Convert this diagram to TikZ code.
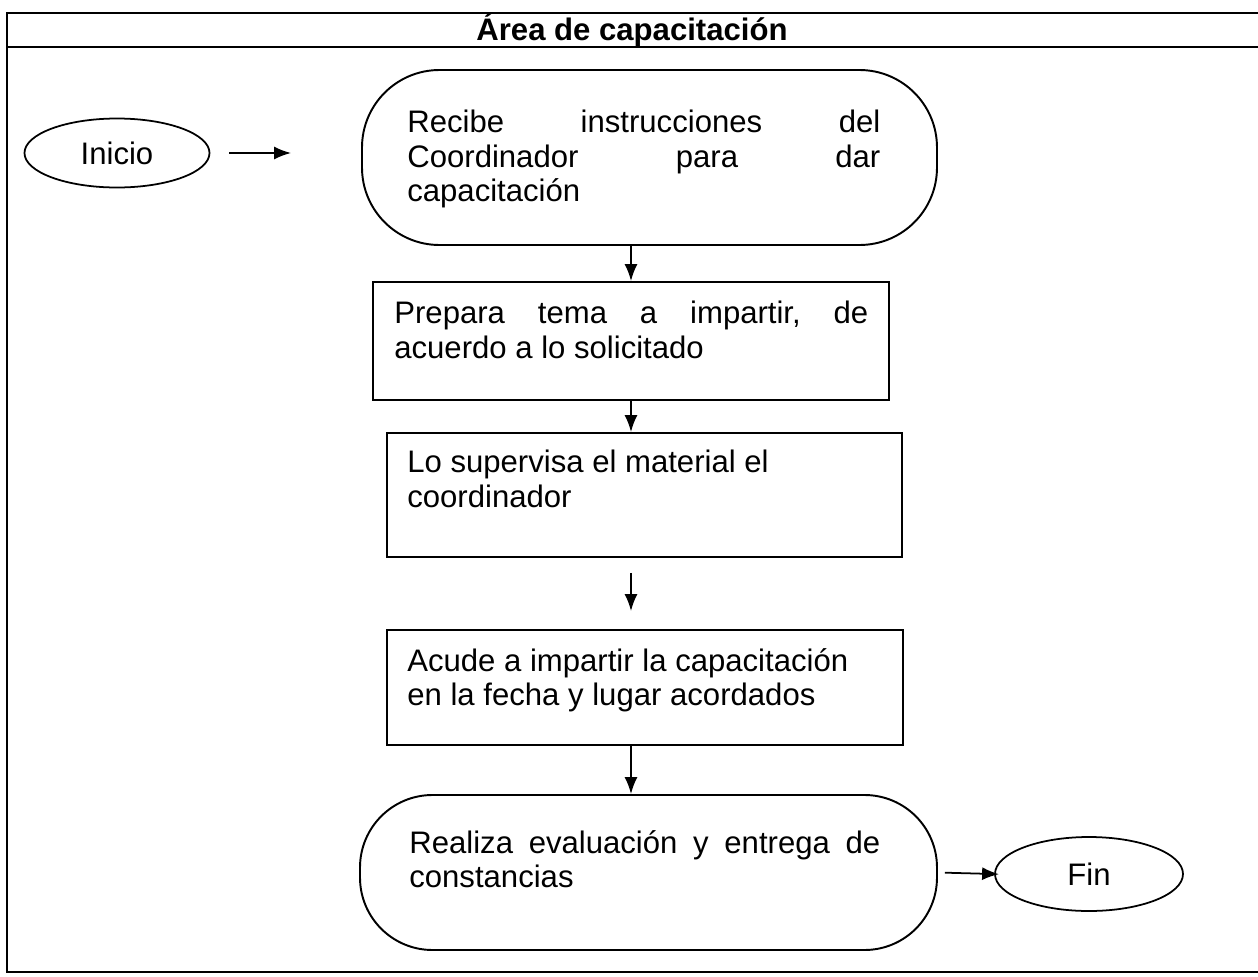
\documentclass[tikz,border=0pt]{standalone}
\usepackage{fontspec}
\setmainfont{Liberation Sans}
\usetikzlibrary{shapes.geometric,arrows.meta}
\begin{document}
\begin{tikzpicture}[
  every node/.style={font=\fontsize{17.7}{19.6}\selectfont},
  frameline/.style={line width=1.1pt},
  stadium/.style={draw, line width=1.1pt, rectangle, inner sep=0pt},
  procbox/.style={draw, line width=1.1pt, rectangle, inner sep=0pt},
  term/.style={draw, line width=1pt, ellipse, inner sep=0pt},
  txt/.style={inner sep=0pt, align=left, anchor=north west},
  arr/.style={line width=1pt, -{Latex[length=0.34cm,width=0.26cm]}}
]
\useasboundingbox (0,0) rectangle (25.16,-19.54);
% frame
\coordinate (ftl) at (0.14,-0.26);
\coordinate (ftr) at (25.16,-0.26);
\coordinate (fhl) at (0.14,-0.94);
\coordinate (fhr) at (25.16,-0.94);
\coordinate (fbl) at (0.14,-19.44);
\coordinate (fbr) at (25.16,-19.44);
\draw[frameline] (ftr) -- (ftl) -- (fbl) -- (fbr);
\draw[frameline] (fhl) -- (fhr);
\node[font=\fontsize{17.7}{19.6}\selectfont\bfseries] (title) at (12.64,-0.6) {Área de capacitación};

% terminals
\node[term, minimum width=3.7cm, minimum height=1.38cm] (inicio) at (2.34,-3.06) {Inicio\hspace{0.28cm}};
\node[term, minimum width=3.76cm, minimum height=1.48cm] (fin) at (21.78,-17.48) {Fin\hspace{0.6cm}};

% process shapes
\node[stadium, rounded corners=1.55cm, minimum width=11.5cm, minimum height=3.5cm] (recibe) at (12.99,-3.15) {};
\node[procbox, minimum width=10.32cm, minimum height=2.36cm] (prepara) at (12.62,-6.82) {};
\node[procbox, minimum width=10.3cm, minimum height=2.48cm] (supervisa) at (12.89,-9.9) {};
\node[procbox, minimum width=10.32cm, minimum height=2.3cm] (acude) at (12.9,-13.75) {};
\node[stadium, rounded corners=1.45cm, minimum width=11.54cm, minimum height=3.1cm] (realiza) at (12.97,-17.45) {};

% texts
\node[txt] (trecibe) at (8.14,-2.2) {\hbox to 9.46cm{Recibe\hfill instrucciones\hfill del}\\\hbox to 9.46cm{Coordinador\hfill para\hfill dar}\\capacitación};
\node[txt] (tprepara) at (7.88,-6.02) {\hbox to 9.48cm{Prepara\hfill tema\hfill a\hfill impartir,\hfill de}\\acuerdo a lo solicitado};
\node[txt] (tsupervisa) at (8.14,-9.0) {Lo supervisa el material el\\coordinador};
\node[txt] (tacude) at (8.14,-12.96) {Acude a impartir la capacitación\\en la fecha y lugar acordados};
\node[txt] (trealiza) at (8.18,-16.6) {\hbox to 9.42cm{Realiza\hfill evaluación\hfill y\hfill entrega\hfill de}\\constancias};

% connectors
\draw[arr, shorten <=0.38cm, shorten >=1.4cm] (inicio.east) -- (inicio.east -| recibe.west);
\draw[arr] (prepara.north |- recibe.south) -- (prepara.north);
\draw[arr] (prepara.south) -- (prepara.south |- supervisa.north);
\draw[arr, shorten <=0.3cm, shorten >=0.36cm] (prepara.south |- supervisa.south) -- (prepara.south |- acude.north);
\draw[arr] (prepara.south |- acude.south) -- (prepara.south |- realiza.north);
\draw[arr, shorten <=0.14cm, shorten >=-0.1cm] (realiza.east) -- (fin.west);
\end{tikzpicture}
\end{document}
